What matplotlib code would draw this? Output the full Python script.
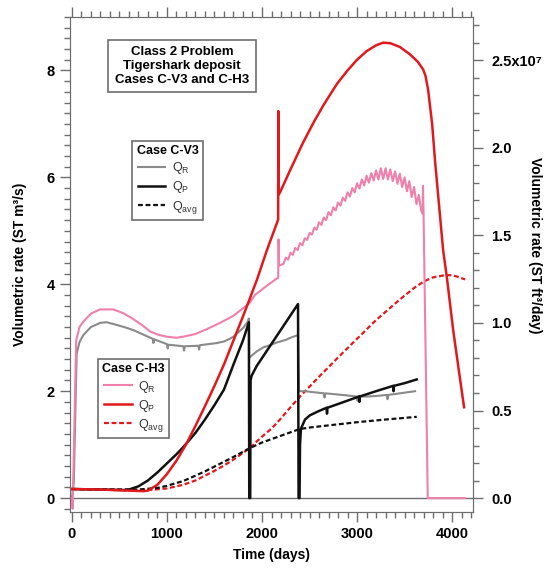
import matplotlib
matplotlib.use('Agg')
import matplotlib.pyplot as plt
from matplotlib.ticker import MultipleLocator, FixedLocator
from matplotlib.lines import Line2D

plt.rcParams['font.family'] = ['Liberation Sans', 'DejaVu Sans']
plt.rcParams['mathtext.default'] = 'regular'

# Case C-V3 (gray / black)
cv3_qr_t = [0, 20, 50, 80, 120, 200, 300, 365, 450, 550, 650, 750, 850, 858, 866, 1000, 1008, 1016,
            1172, 1180, 1188, 1330, 1338, 1346, 1523, 1600, 1650, 1700, 1750, 1800, 1850, 1862,
            1866, 1900, 1950, 2014, 2084, 2154, 2250, 2300, 2379, 2390, 2450, 2550, 2650, 2658, 2666,
            2786, 2900, 2997, 3005, 3013, 3100, 3200, 3312, 3320, 3328, 3450, 3611]
cv3_qr_v = [0.0, 0.3, 2.7, 2.92, 3.05, 3.2, 3.28, 3.29, 3.25, 3.2, 3.14, 3.06, 2.98, 2.9, 2.97, 2.88, 2.8, 2.87,
            2.84, 2.76, 2.84, 2.85, 2.78, 2.86, 2.9, 2.93, 2.97, 3.02, 3.1, 3.18, 3.3, 3.36,
            2.62, 2.68, 2.75, 2.82, 2.86, 2.91, 2.96, 3.0, 3.05, 2.0, 2.0, 1.98, 1.96, 1.88, 1.96,
            1.94, 1.92, 1.9, 1.82, 1.9, 1.9, 1.91, 1.93, 1.85, 1.93, 1.96, 2.0]

cv3_qp_t = [0, 300, 550, 600, 700, 800, 900, 1000, 1100, 1170, 1300, 1400, 1500, 1600, 1700, 1800, 1862,
            1866, 1876, 1880, 1891, 1944, 2379, 2385, 2395, 2400, 2410, 2453, 2505, 2600, 2680, 2684, 2688,
            2800, 3020, 3024, 3028, 3200, 3380, 3384, 3388, 3500, 3628]
cv3_qp_v = [0.17, 0.16, 0.15, 0.16, 0.22, 0.33, 0.48, 0.65, 0.82, 0.95, 1.22, 1.47, 1.74, 2.03, 2.5, 2.95, 3.29,
            0.0, 0.0, 2.2, 2.29, 2.47, 3.63, 0.0, 0.0, 1.0, 1.3, 1.47, 1.55, 1.63, 1.69, 1.58, 1.69,
            1.76, 1.9, 1.8, 1.9, 2.0, 2.1, 2.0, 2.1, 2.15, 2.22]

cv3_qavg_t = [0, 400, 700, 900, 1000, 1172, 1300, 1400, 1500, 1600, 1700, 1866, 2000, 2189, 2393, 2500,
              2800, 3000, 3300, 3628]
cv3_qavg_v = [0.17, 0.16, 0.16, 0.19, 0.23, 0.32, 0.42, 0.5, 0.59, 0.68, 0.77, 0.93, 1.04, 1.16, 1.29, 1.32,
              1.38, 1.42, 1.47, 1.52]

# Case C-H3 (pink / red)
ch3_qr_t = [0, 8, 45, 80, 120, 200, 295, 435, 540, 645, 750, 821, 900, 997, 1100, 1172, 1300, 1418,
            1550, 1698, 1800, 1874, 1926, 2049, 2150, 2170, 2174, 2180, 2225,
            2250, 2275, 2300, 2325, 2350, 2375, 2400, 2425, 2450, 2475, 2500, 2525, 2550, 2575,
            2600, 2625, 2650, 2675, 2700, 2725, 2750, 2775, 2800, 2825, 2850, 2875, 2900, 2925,
            2950, 2975, 3000, 3025, 3050, 3075, 3100, 3125, 3150, 3175, 3200, 3225, 3250, 3275,
            3300, 3325, 3350, 3375, 3400, 3425, 3450, 3475, 3500, 3525, 3550, 3575, 3600, 3625,
            3650, 3675, 3690, 3694, 3700, 3744, 4137]
ch3_qr_v = [0.0, -0.2, 2.95, 3.2, 3.3, 3.45, 3.53, 3.53, 3.46, 3.35, 3.22, 3.12, 3.06, 3.02, 3.0, 3.02, 3.07, 3.16,
            3.27, 3.41, 3.55, 3.66, 3.8, 3.97, 4.1, 4.12, 4.84, 4.35, 4.38,
            4.50, 4.46, 4.59, 4.55, 4.68, 4.64, 4.77, 4.73, 4.86, 4.83, 4.96, 4.93, 5.06, 5.02,
            5.16, 5.11, 5.25, 5.20, 5.35, 5.29, 5.44, 5.38, 5.53, 5.47, 5.62, 5.56, 5.72, 5.64,
            5.80, 5.72, 5.89, 5.79, 5.96, 5.85, 6.03, 5.90, 6.08, 5.94, 6.13, 5.96, 6.17, 5.97,
            6.17, 5.96, 6.15, 5.93, 6.11, 5.88, 6.07, 5.82, 6.00, 5.74, 5.93, 5.63, 5.82, 5.50,
            5.67, 5.38, 5.32, 5.84, 5.3, 0.0, 0.0]

ch3_qp_t = [0, 300, 600, 750, 800, 900, 1000, 1100, 1200, 1300, 1400, 1500, 1600, 1700, 1800, 1850, 1950,
            2050, 2170, 2172, 2176, 2190, 2300, 2432, 2550, 2650, 2789, 2900, 3000, 3100, 3200, 3274,
            3350, 3450, 3558, 3640, 3695, 3720, 3747, 3790, 3821, 3905, 3947, 4011, 4070, 4126]
ch3_qp_v = [0.17, 0.16, 0.14, 0.13, 0.14, 0.25, 0.45, 0.7, 1.0, 1.35, 1.72, 2.1, 2.5, 2.95, 3.4, 3.63, 4.1,
            4.63, 5.21, 7.24, 5.68, 5.72, 6.15, 6.65, 7.05, 7.36, 7.75, 8.0, 8.2, 8.36, 8.47, 8.52,
            8.51, 8.44, 8.3, 8.16, 8.02, 7.9, 7.65, 7.0, 6.3, 4.65, 4.1, 3.15, 2.4, 1.7]

ch3_qavg_t = [0, 400, 800, 1000, 1172, 1300, 1400, 1500, 1600, 1700, 1866, 2000, 2100, 2189, 2300, 2400,
              2600, 2800, 2891, 3000, 3200, 3453, 3600, 3700, 3800, 3926, 4000, 4060, 4137]
ch3_qavg_v = [0.17, 0.16, 0.15, 0.18, 0.25, 0.33, 0.42, 0.51, 0.61, 0.72, 0.93, 1.15, 1.3, 1.47, 1.7, 1.9,
              2.27, 2.63, 2.79, 2.98, 3.33, 3.72, 3.93, 4.05, 4.13, 4.17, 4.17, 4.14, 4.09]

M3S_TO_FT3D = 35.3147 * 86400.0

pink = '#ef7fab'
red = '#e2191c'
gray = '#8a8a8a'
axcol = '#6e6e6e'

fig = plt.figure(figsize=(5.45, 5.71), dpi=100)
ax = fig.add_axes([70/545, 1-512/571, 403/545, 495/571])

ax.axhline(0, color=axcol, lw=1.0, zorder=1)

ax.plot(ch3_qavg_t, ch3_qavg_v, color=red, lw=1.6, ls=(0, (2.2, 1.2)), zorder=3)
ax.plot(cv3_qavg_t, cv3_qavg_v, color='#111111', lw=1.6, ls=(0, (2.2, 1.2)), zorder=3)
ax.plot(cv3_qr_t, cv3_qr_v, color=gray, lw=1.5, zorder=3)
ax.plot(ch3_qr_t, ch3_qr_v, color=pink, lw=1.5, zorder=3)
ax.plot(cv3_qp_t, cv3_qp_v, color='#111111', lw=1.8, zorder=4)
ax.plot(ch3_qp_t, ch3_qp_v, color=red, lw=1.8, zorder=5)

ax.set_xlim(-20, 4220)
ax.set_ylim(-0.26, 9.0)

ax.xaxis.set_major_locator(MultipleLocator(1000))
ax.xaxis.set_minor_locator(MultipleLocator(100))
ax.yaxis.set_major_locator(MultipleLocator(2))
ax.yaxis.set_minor_locator(MultipleLocator(0.2))
ax.tick_params(which='both', direction='out', color=axcol, top=True, labeltop=False)
ax.tick_params(which='major', length=7, width=1, labelsize=10.5, pad=4)
ax.tick_params(which='minor', length=4, width=1)
for lab in ax.get_xticklabels() + ax.get_yticklabels():
    lab.set_fontweight('bold')
for s in ax.spines.values():
    s.set_color(axcol)

ax.set_xlabel('Time (days)', fontsize=10, fontweight='bold', labelpad=5)
ax.set_ylabel('Volumetric rate (ST m³/s)', fontsize=10, fontweight='bold', labelpad=14)

# right axis in ft3/day
ax2 = ax.twinx()
lo, hi = ax.get_ylim()
ax2.set_ylim(lo * M3S_TO_FT3D, hi * M3S_TO_FT3D)
ax2.yaxis.set_major_locator(FixedLocator([0, 0.5e7, 1.0e7, 1.5e7, 2.0e7, 2.5e7]))
ax2.yaxis.set_minor_locator(MultipleLocator(0.1e7))
ax2.set_yticklabels(['0.0', '0.5', '1.0', '1.5', '2.0', '2.5x10⁷'])
ax2.tick_params(which='both', direction='out', color=axcol)
ax2.tick_params(which='major', length=7, width=1, labelsize=10.5, pad=6)
ax2.tick_params(which='minor', length=4, width=1)
for lab in ax2.get_yticklabels():
    lab.set_fontweight('bold')
for s in ax2.spines.values():
    s.set_color(axcol)
fig.text(535/545, 1-245/571, 'Volumetric rate (ST ft³/day)', rotation=-90, fontsize=10,
         fontweight='bold', ha='center', va='center')

# title box
ax.text(0.278, 0.901, 'Class 2 Problem\nTigershark deposit\nCases C-V3 and C-H3',
        transform=ax.transAxes, ha='center', va='center', fontsize=9.5, fontweight='bold',
        linespacing=1.2, zorder=6,
        bbox=dict(boxstyle='square,pad=0.5', fc='white', ec=axcol, lw=1.2))

dash = (0, (2.2, 1.2))
h_v3 = [Line2D([], [], color=gray, lw=1.5),
        Line2D([], [], color='#111111', lw=1.8),
        Line2D([], [], color='#111111', lw=1.6, ls=dash)]
h_h3 = [Line2D([], [], color=pink, lw=1.5),
        Line2D([], [], color=red, lw=1.8),
        Line2D([], [], color=red, lw=1.6, ls=dash)]
labs = ['Q$_R$', 'Q$_P$', 'Q$_{avg}$']

leg_kw = dict(loc='center', fontsize=9, title_fontproperties={'weight': 'bold', 'size': 9},
              frameon=True, fancybox=False, edgecolor=axcol, framealpha=1, handlelength=2.2,
              handletextpad=0.5, labelspacing=0.25, borderpad=0.35, borderaxespad=0)
leg1 = ax.legend(h_v3, labs, title='Case C-V3', bbox_to_anchor=(0.242, 0.670), **leg_kw)
leg1.get_frame().set_linewidth(1.2)
for t in leg1.get_texts():
    t.set_color('#333333')
ax.add_artist(leg1)
leg2 = ax.legend(h_h3, labs, title='Case C-H3', bbox_to_anchor=(0.158, 0.229), **leg_kw)
leg2.get_frame().set_linewidth(1.2)
for t in leg2.get_texts():
    t.set_color('#333333')
leg1.set_zorder(7)
leg2.set_zorder(7)

fig.savefig('out.png', dpi=100)
